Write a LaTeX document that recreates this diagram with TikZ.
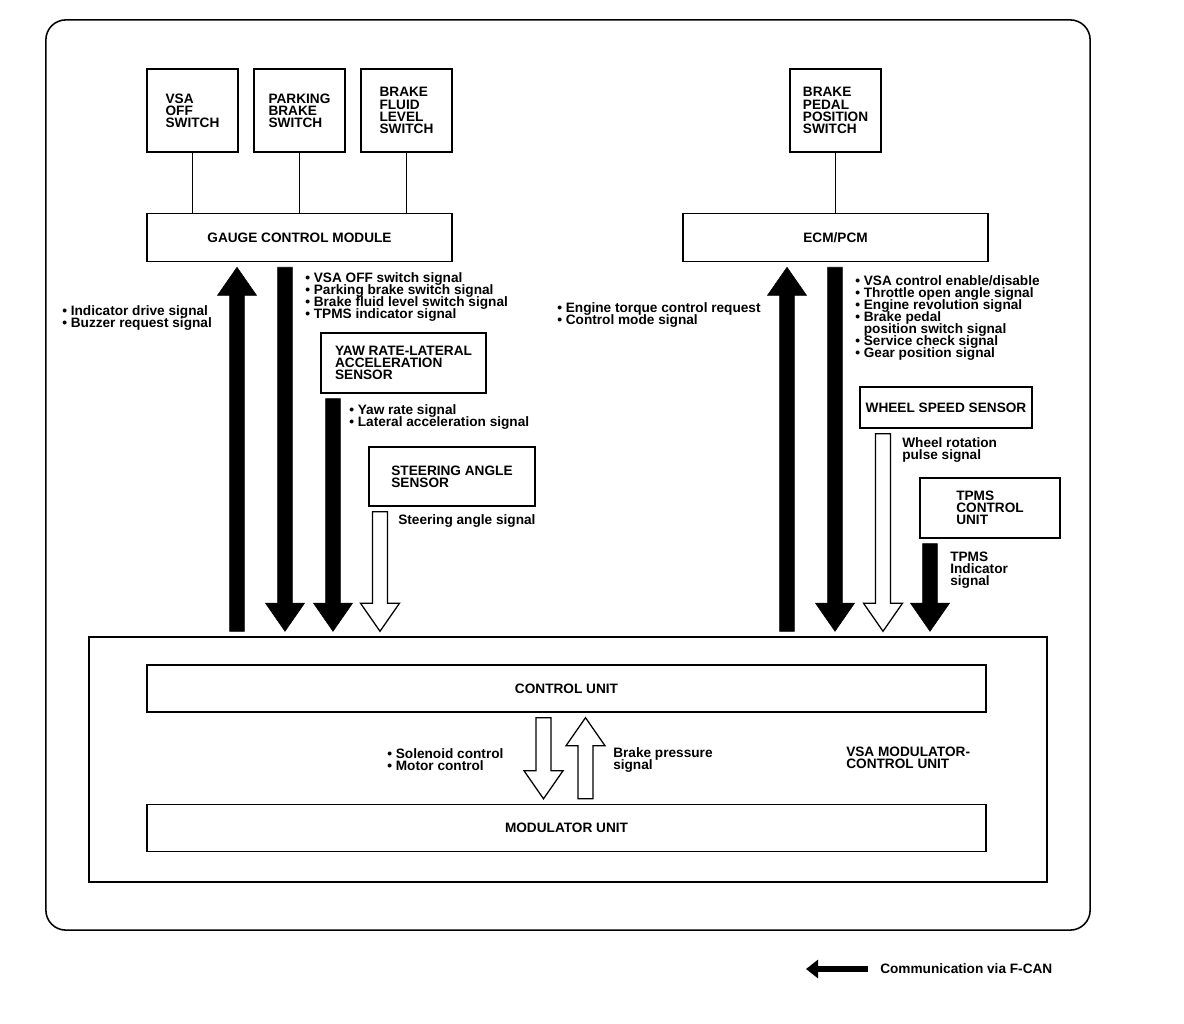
\documentclass[tikz,border=0pt]{standalone}
\usepackage{fontspec}
\setmainfont{Liberation Sans}
\usepackage{tikz}
\usetikzlibrary{positioning, arrows.meta, calc}

\setlength{\lineskiplimit}{-10pt}
\newcommand\arrshaft{5.3pt}
\newcommand\arrhead{13.9pt}
\newcommand\arrheadlen{20pt}
\newcommand\arrgap{3.5pt}

\begin{document}
\begin{tikzpicture}[x=0.025cm, y=-0.025cm, font=\bfseries\fontsize{9.7}{8.6}\selectfont]

	% Define styles
	\tikzset{
		box/.style={rectangle, draw, line width=1.1pt, inner sep=0pt, align=left},
		switchbox/.style={box, minimum width=2.275cm, minimum height=2.075cm},
		module/.style={box, minimum width=7.625cm, minimum height=1.2cm, align=center},
		sensor/.style={box, minimum height=1.5cm},
		unitbox/.style={box, minimum width=20.975cm, minimum height=1.175cm, align=center},
		sigtext/.style={anchor=west, inner sep=0pt, align=left},
		wire/.style={line width=1pt},
		blockarrow/.style={to path={
			let \p1=(\tikztostart), \p2=(\tikztotarget), \n1={sign(\y2-\y1)} in
			({\x1-\arrshaft},{\y1+(\n1)*\arrgap}) -- ({\x1-\arrshaft},{\y2-(\n1)*(\arrgap+\arrheadlen)})
			-- ({\x1-\arrhead},{\y2-(\n1)*(\arrgap+\arrheadlen)}) -- (\x1,{\y2-(\n1)*\arrgap})
			-- ({\x1+\arrhead},{\y2-(\n1)*(\arrgap+\arrheadlen)}) -- ({\x1+\arrshaft},{\y2-(\n1)*(\arrgap+\arrheadlen)})
			-- ({\x1+\arrshaft},{\y1+(\n1)*\arrgap}) -- cycle}},
		fcan/.style={blockarrow, fill=black},
		plainarrow/.style={blockarrow, line width=0.9pt, fill=white},
		legendarrow/.style={line width=4.3pt, -{Triangle[length=0.3cm 0 0, width=0.45cm 0 0]}}
	}

	\useasboundingbox (0,0) rectangle (1184,1024);

	% Outer frame
	\node (frame) [box, rounded corners=0.5cm, minimum width=26.1cm, minimum height=22.75cm] at (568,475) {};

	% Switches and modules
	\node (vsaoff)  [switchbox] at (192.5,110.5) {VSA\\OFF\\SWITCH};
	\node (parking) [switchbox, right=0.36cm of vsaoff] {PARKING\\BRAKE\\SWITCH};
	\node (fluid)   [switchbox, right=0.36cm of parking] {BRAKE\\FLUID\\LEVEL\\SWITCH};
	\node (pedal)   [switchbox] at (835.5,110.5) {BRAKE\\PEDAL\\POSITION\\SWITCH};

	\node (gauge) [module, below=1.5cm of parking] {GAUGE CONTROL MODULE};
	\node (ecm)   [module, below=1.5cm of pedal] {ECM/PCM};

	\draw[wire] (vsaoff.south) -- (vsaoff.south |- gauge.north);
	\draw[wire] (parking.south) -- (parking.south |- gauge.north);
	\draw[wire] (fluid.south) -- (fluid.south |- gauge.north);
	\draw[wire] (pedal.south) -- (pedal.south |- ecm.north);

	% Sensors
	\node (yaw)   [sensor, minimum width=4.125cm] at (403.5,363) {YAW RATE-LATERAL\\ACCELERATION\\SENSOR};
	\node (steer) [sensor, minimum width=4.15cm, minimum height=1.475cm] at (452,476.5) {STEERING ANGLE\\SENSOR};
	\node (wheel) [sensor, minimum width=4.3cm, minimum height=1.025cm, align=center] at (946,407.5) {WHEEL SPEED SENSOR};
	\node (tpms)  [sensor, minimum width=3.5cm] at (990,508) {TPMS\\CONTROL\\UNIT};

	% VSA modulator-control unit
	\node (vsa)       [box, minimum width=23.95cm, minimum height=6.125cm] at (568,759.5) {};
	\node (control)   [unitbox] at (566.5,688.5) {CONTROL UNIT};
	\node (modulator) [unitbox] at (566.5,828) {MODULATOR UNIT};

	% Signal texts
	\node (gaugeout)    [sigtext] at (62,318) {• Indicator drive signal\\• Buzzer request signal};
	\node (gaugein)     [sigtext] at (305,297) {• VSA OFF switch signal\\• Parking brake switch signal\\• Brake fluid level switch signal\\• TPMS indicator signal};
	\node (yawsig)      [sigtext] at (349,417) {• Yaw rate signal\\• Lateral acceleration signal};
	\node (steersig)    [sigtext] at (398,521) {Steering angle signal};
	\node (ecmout)      [sigtext] at (557,315) {• Engine torque control request\\• Control mode signal};
	\node (ecmin)       [sigtext] at (855,318) {• VSA control enable/disable\\• Throttle open angle signal\\• Engine revolution signal\\• Brake pedal\\\phantom{• }position switch signal\\• Service check signal\\• Gear position signal};
	\node (wheelsig)    [sigtext] at (902,450) {Wheel rotation\\pulse signal};
	\node (tpmssig)     [sigtext] at (950,570) {TPMS\\Indicator\\signal};
	\node (vsalabel)    [sigtext] at (846,758) {VSA MODULATOR-\\CONTROL UNIT};
	\node (controlsig)  [sigtext] at (387,760) {• Solenoid control\\• Motor control};
	\node (pressuresig) [sigtext] at (613,760) {Brake pressure\\signal};

	% Arrows to and from the modulator-control unit
	\draw[fcan] (237,0 |- vsa.north) to (gauge.south);
	\draw[fcan] (285,0 |- gauge.south) to (vsa.north);
	\draw[fcan] (333,0 |- yaw.south) to (vsa.north);
	\draw[plainarrow] (380,0 |- steer.south) to (vsa.north);
	\draw[fcan] (787,0 |- vsa.north) to (ecm.south);
	\draw[fcan] (835,0 |- ecm.south) to (vsa.north);
	\draw[plainarrow] (883,0 |- wheel.south) to (vsa.north);
	\draw[fcan] (930,0 |- tpms.south) to (vsa.north);

	% Inside the unit
	\draw[plainarrow] (543.5,0 |- control.south) to (modulator.north);
	\draw[plainarrow] (585.5,0 |- modulator.north) to (control.south);

	% Legend
	\node (legend) [sigtext] at (880,969) {Communication via F-CAN};
	\coordinate (legtail) at (868,969);
	\coordinate (leghead) at (806,969);
	\draw[legendarrow] (legtail) -- (leghead);

\end{tikzpicture}
\end{document}
